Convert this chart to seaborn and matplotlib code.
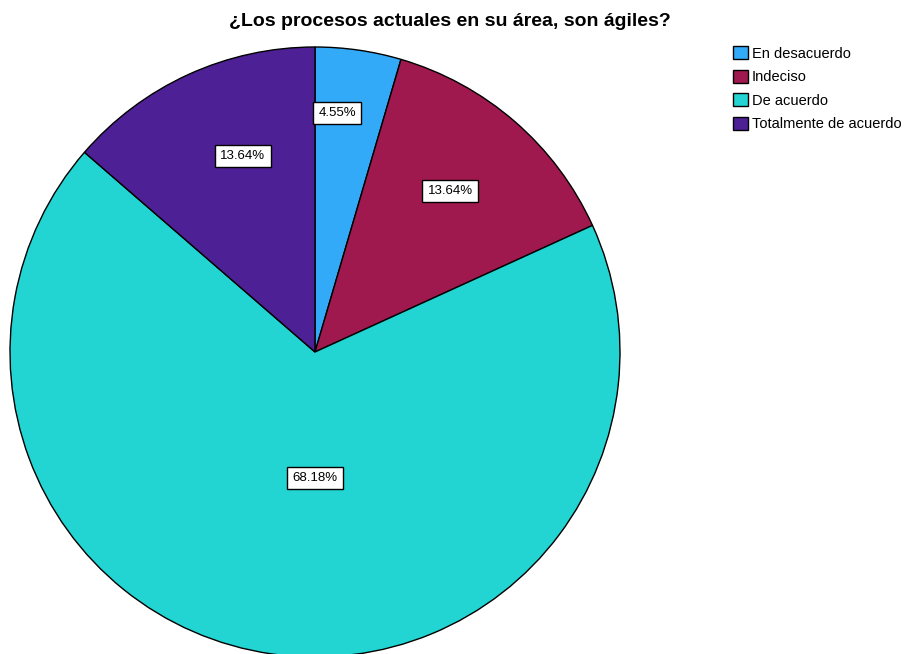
import numpy as np
import matplotlib
matplotlib.use("Agg")
import matplotlib.pyplot as plt
import seaborn as sns
from matplotlib.patches import Patch

categorias = ["En desacuerdo", "Indeciso", "De acuerdo", "Totalmente de acuerdo"]
porcentajes = [4.55, 13.64, 68.18, 13.64]
colores = ["#33aaf8", "#a0194e", "#22d5d3", "#4e2095"]
# ubicación de cada etiqueta (estilo SPSS): radio relativo y desvío angular
dist_etiquetas = [0.787, 0.689, 0.413, 0.685]
desvio_ang = [2.9, 0.9, 8.2, -4.3]

sns.set_theme(style="white")
plt.rcParams["font.family"] = ["Liberation Sans", "DejaVu Sans"]
plt.rcParams["text.color"] = "black"

fig = plt.figure(figsize=(9.17, 6.54), dpi=100)
ax = fig.add_axes([10 / 917, -3 / 654, 610 / 917, 610 / 654])

wedges, _ = ax.pie(
    porcentajes,
    colors=colores,
    startangle=90,
    counterclock=False,
    radius=1,
    wedgeprops=dict(edgecolor="black", linewidth=1),
)

for w, pct, d, da in zip(wedges, porcentajes, dist_etiquetas, desvio_ang):
    ang = np.deg2rad((w.theta1 + w.theta2) / 2 + da)
    ax.text(
        d * np.cos(ang), d * np.sin(ang), f"{pct:.2f}%",
        ha="center", va="center", fontsize=9.5, color="black",
        bbox=dict(boxstyle="square,pad=0.4", fc="white", ec="black", lw=1),
    )

ax.set_xlim(-1, 1)
ax.set_ylim(-1, 1)
ax.set_aspect("equal")
ax.axis("off")

fig.text(450 / 917, 1 - 22 / 654, "¿Los procesos actuales en su área, son ágiles?",
         ha="center", va="center", fontsize=14, fontweight="bold", color="black")

handles = [Patch(facecolor=c, edgecolor="black", label=l) for c, l in zip(colores, categorias)]
fig.legend(handles=handles, loc="upper left", bbox_to_anchor=(733 / 917, 1 - 46 / 654),
           frameon=False, fontsize=10.5, handlelength=1.0, handleheight=1.0,
           handletextpad=0.3, labelspacing=0.62, borderpad=0, borderaxespad=0)

fig.savefig("out.png", dpi=100)
